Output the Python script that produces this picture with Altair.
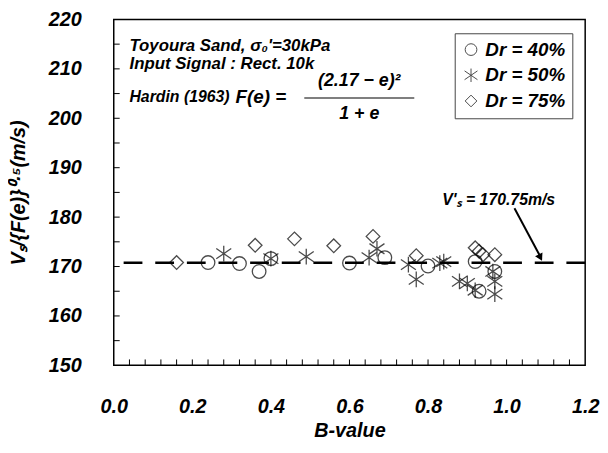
import altair as alt
import pandas as pd

# ---- data ----
dr_labels = ["Dr = 40%", "Dr = 50%", "Dr = 75%"]

b_40 = [0.24, 0.32, 0.37, 0.40, 0.60, 0.69, 0.80, 0.92, 0.93, 0.97]
v_40 = [170.8, 170.6, 169.0, 171.6, 170.7, 171.8, 170.1, 171.0, 165.0, 169.0]

b_50 = [0.28, 0.40, 0.49, 0.65, 0.67, 0.75, 0.77, 0.83, 0.84, 0.88, 0.90, 0.92, 0.965, 0.97, 0.97]
v_50 = [172.6, 171.6, 172.0, 171.8, 173.6, 170.4, 167.4, 170.7, 171.0, 167.0, 166.6, 165.2, 169.0, 167.0, 164.4]

b_75 = [0.16, 0.36, 0.46, 0.56, 0.66, 0.77, 0.92, 0.93, 0.94, 0.97]
v_75 = [170.8, 174.3, 175.6, 174.2, 176.1, 172.2, 173.8, 173.1, 172.4, 172.4]

vs_ref = 170.75

x_ticks = [0.0, 0.2, 0.4, 0.6, 0.8, 1.0, 1.2]
y_ticks = [150, 160, 170, 180, 190, 200, 210, 220]
x_minor = [round(0.04 * i, 2) for i in range(1, 30)]
y_minor = [155 + 5 * i for i in range(13)]

rows = []
for lab, bs, vs in zip(dr_labels, [b_40, b_50, b_75], [v_40, v_50, v_75]):
    for b, v in zip(bs, vs):
        rows.append({"B": b, "V": v, "Dr": lab})
df = pd.DataFrame(rows)

FONT = "Liberation Sans"
W, H = 477, 350
xs = alt.Scale(domain=[0, 1.2], nice=False, zero=False)
ys = alt.Scale(domain=[150, 220], nice=False, zero=False)

asterisk = "M-1.1,-0.75L1.1,0.75M-1.1,0.75L1.1,-0.75M0,-1.15L0,1.15"

legend = alt.Legend(
    title=None, orient="none", legendX=345, legendY=14,
    strokeColor="#444", fillColor="white", padding=7,
    labelFont=FONT, labelFontSize=19, labelFontWeight="bold",
    labelFontStyle="italic", labelColor="black", labelOffset=5,
    symbolSize=140, symbolStrokeWidth=1, symbolStrokeColor="black",
    rowPadding=6,
)

x_axis = alt.Axis(
    values=x_ticks, format=".1f", labelFont=FONT, labelFontSize=20,
    labelFontWeight="bold", labelFontStyle="italic", labelColor="black",
    labelPadding=32, labelFlush=False, labelOverlap=False,
    ticks=False, domain=False, grid=False,
    title="B-value", titleFont=FONT, titleFontSize=20, titleFontWeight="bold",
    titleFontStyle="italic", titleColor="black", titlePadding=4,
)
y_axis = alt.Axis(
    values=y_ticks, format="d", labelFont=FONT, labelFontSize=20,
    labelFontWeight="bold", labelFontStyle="italic", labelColor="black",
    labelPadding=33, labelFlush=False, labelOverlap=False,
    ticks=False, domain=False, grid=False,
    title="Vₛ/{F(e)}⁰·⁵(m/s)", titleFont=FONT, titleFontSize=20,
    titleFontWeight="bold", titleFontStyle="italic", titleColor="black",
    titlePadding=20,
)

X = lambda f="B": alt.X(f + ":Q", scale=xs, axis=x_axis)
Y = lambda f="V": alt.Y(f + ":Q", scale=ys, axis=y_axis)

points = alt.Chart(df).mark_point(filled=False, size=190, strokeWidth=1.3, color="black").encode(
    x=X(), y=Y(),
    shape=alt.Shape("Dr:N", scale=alt.Scale(domain=dr_labels, range=["circle", asterisk, "diamond"]), legend=legend),
)

ref_line = alt.Chart(pd.DataFrame({"V": [vs_ref]})).mark_rule(
    strokeDash=[19, 13], strokeWidth=2.6, color="black"
).encode(y=Y())

yt = alt.Chart(pd.DataFrame({"V": y_minor})).mark_rule(color="black", strokeWidth=1).encode(
    y=Y(), x=alt.value(0), x2=alt.value(6))
xt = alt.Chart(pd.DataFrame({"B": x_minor})).mark_rule(color="black", strokeWidth=1).encode(
    x=X(), y=alt.value(H), y2=alt.value(H - 6))


def txt(text, b, v, size=17, align="left"):
    return alt.Chart(pd.DataFrame({"B": [b], "V": [v], "t": [text]})).mark_text(
        font=FONT, fontSize=size, fontWeight="bold", fontStyle="italic",
        align=align, baseline="middle", color="black"
    ).encode(x=X(), y=Y(), text="t:N")


texts = [
    txt("Toyoura Sand, σ₀'=30kPa", 0.04, 214.6),
    txt("Input Signal : Rect. 10k", 0.04, 211.0),
    txt("Hardin (1963)", 0.04, 204.3, size=16),
    txt("F(e) =", 0.31, 204.2, size=19),
    txt("(2.17 − e)²", 0.625, 207.6, size=18, align="center"),
    txt("1 + e", 0.625, 200.9, size=18, align="center"),
    txt("V'ₛ = 170.75m/s", 0.98, 183.4, size=16, align="center"),
]

frac = alt.Chart(pd.DataFrame({"B": [0.485], "B2": [0.765], "V": [204.1]})).mark_rule(
    color="black", strokeWidth=1.2
).encode(x=X(), x2="B2:Q", y=Y())

arrow_df = pd.DataFrame({"B": [1.02, 1.084], "V": [181.8, 172.3]})
arrow = alt.Chart(arrow_df).mark_line(color="black", strokeWidth=2).encode(x=X(), y=Y())
head = alt.Chart(pd.DataFrame({"B": [1.086], "V": [171.8]})).mark_point(
    shape="triangle-up", size=70, filled=True, color="black", angle=153, opacity=1
).encode(x=X(), y=Y())

chart = alt.layer(points, ref_line, yt, xt, frac, arrow, head, *texts).properties(
    width=W, height=H,
    padding={"left": 107, "top": 9, "right": 15, "bottom": 78},
    autosize=alt.AutoSizeParams(type="none"),
).configure_view(stroke="black", strokeWidth=1.5)

chart.save("out.html", embed_options={"renderer": "svg", "actions": False})
